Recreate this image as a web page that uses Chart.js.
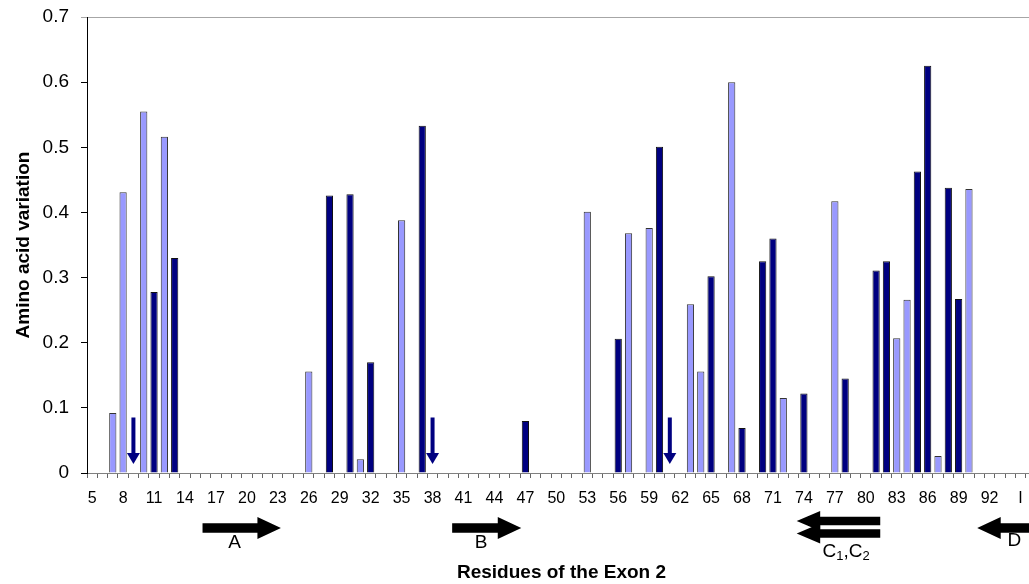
<!DOCTYPE html>
<html><head><meta charset="utf-8">
<script src="https://cdn.jsdelivr.net/npm/chart.js@4/dist/chart.umd.min.js"></script>
<style>
html,body{margin:0;padding:0;background:#fff;overflow:hidden;width:1029px;height:584px}
#wrap{position:absolute;left:0;top:0;width:1040px;height:584px}
</style>
</head><body><div id="wrap"><canvas id="c" width="1040" height="584"></canvas></div>
<script>
// ---- data ----
const categories = [5,6,7,8,9,10,11,12,13,14,15,16,17,18,19,20,21,22,23,24,25,26,27,28,29,30,31,32,33,34,35,36,37,38,39,40,41,42,43,44,45,46,47,48,49,50,51,52,53,54,55,56,57,58,59,60,61,62,63,64,65,66,67,68,69,70,71,72,73,74,75,76,77,78,79,80,81,82,83,84,85,86,87,88,89,90,91,92,93,94,95,96];
const tickLabels = ['5','8','11','14','17','20','23','26','29','32','35','38','41','44','47','50','53','56','59','62','65','68','71','74','77','80','83','86','89','92','I'];

const lightResidues = [7,8,10,12,26,31,35,53,57,59,63,64,67,72,77,83,84,87,90];
const lightValues   = [0.092,0.431,0.555,0.516,0.156,0.021,0.388,0.401,0.368,0.376,0.259,0.156,0.600,0.115,0.417,0.207,0.266,0.026,0.436];

const darkResidues = [11,13,28,30,32,37,47,56,60,65,68,70,71,74,78,81,82,85,86,88,89];
const darkValues   = [0.278,0.330,0.426,0.428,0.170,0.533,0.080,0.206,0.501,0.302,0.069,0.325,0.360,0.122,0.145,0.311,0.325,0.463,0.625,0.438,0.267];

const yTicks = [0,0.1,0.2,0.3,0.4,0.5,0.6,0.7];

// marked residues (small down arrows)
const markerResidues = [9,38,61];

// secondary-structure strands (residue span: tail -> tip)
const strandIds  = ['A','B','C1','C2','D'];
const strandFrom = [15.7,39.9,81.4,81.4,100];
const strandTo   = [23.3,46.6,73.3,73.3,90.8];
const strandLabelText    = ['A','B','C','D'];
const strandLabelResidue = [18.8,42.7,78.1,94.4];

// ---- build series ----
const toSeries = (res, vals) => categories.map(r => { const i = res.indexOf(r); return i >= 0 ? vals[i] : null; });
const lightData = toSeries(lightResidues, lightValues);
const darkData  = toSeries(darkResidues, darkValues);

const FONT = "'Liberation Sans', Arial, sans-serif";
Chart.defaults.font.family = FONT;
Chart.defaults.color = '#000';

const isTop = ctx => ctx.tick && Math.abs(ctx.tick.value - 0.7) < 1e-6;

// style rows for strand arrows (px)
const strandRowY = [528,528,521,533.5,528];
const strandShaftHalf = [4.7,4.7,4.2,4.2,4.7];
const strandHeadHalf  = [11,11,10,10,11];

const annot = {
  id: 'annot',
  afterDraw(chart) {
    const ctx = chart.ctx, xs = chart.scales.x;
    const px = r => xs.getPixelForValue(r - categories[0]);
    ctx.save();
    // down arrows
    ctx.fillStyle = '#000080';
    markerResidues.forEach(r => {
      const x = px(r);
      ctx.fillRect(x - 2, 417.5, 4, 36);
      ctx.beginPath();
      ctx.moveTo(x - 6.5, 453); ctx.lineTo(x + 6.5, 453); ctx.lineTo(x, 464);
      ctx.closePath(); ctx.fill();
    });
    // strand arrows
    ctx.fillStyle = '#000';
    strandIds.forEach((id, i) => {
      const xt = px(strandFrom[i]), xh = px(strandTo[i]);
      const y = strandRowY[i], sh = strandShaftHalf[i], hh = strandHeadHalf[i];
      const dir = xh > xt ? 1 : -1;
      const headLen = 23.5;
      const xb = xh - dir * headLen;
      ctx.beginPath();
      ctx.moveTo(xt, y - sh); ctx.lineTo(xb, y - sh); ctx.lineTo(xb, y - hh);
      ctx.lineTo(xh, y); ctx.lineTo(xb, y + hh); ctx.lineTo(xb, y + sh);
      ctx.lineTo(xt, y + sh); ctx.closePath(); ctx.fill();
    });
    // labels
    ctx.textBaseline = 'middle';
    ctx.textAlign = 'center';
    ctx.font = '19px ' + FONT;
    const labY = [543, 543, 551.5, 540.5];
    strandLabelText.forEach((t, i) => {
      const x = px(strandLabelResidue[i]);
      if (t === 'C') {
        // "C1,C2" with subscripts
        const big = '19px ' + FONT, small = '13px ' + FONT;
        const parts = [['C', big, 0], ['1', small, 5], [',', big, 0], ['C', big, 0], ['2', small, 5]];
        let w = 0;
        parts.forEach(p => { ctx.font = p[1]; w += ctx.measureText(p[0]).width; });
        let cx = x - w / 2;
        ctx.textAlign = 'left';
        parts.forEach(p => { ctx.font = p[1]; ctx.fillText(p[0], cx, labY[i] + p[2]); cx += ctx.measureText(p[0]).width; });
        ctx.textAlign = 'center';
        ctx.font = '19px ' + FONT;
      } else {
        ctx.fillText(t, x, labY[i]);
      }
    });
    ctx.restore();
  }
};

new Chart(document.getElementById('c'), {
  type: 'bar',
  data: {
    labels: categories,
    datasets: [
      { label: 'light', data: lightData, backgroundColor: '#9999FF', borderColor: '#333', borderWidth: 1, grouped: false, barPercentage: 0.7, categoryPercentage: 1 },
      { label: 'dark',  data: darkData,  backgroundColor: '#000080', borderColor: '#111', borderWidth: 1, grouped: false, barPercentage: 0.7, categoryPercentage: 1 }
    ]
  },
  options: {
    responsive: false,
    devicePixelRatio: 1,
    animation: false,
    layout: { padding: { top: 17, right: 4, left: 0, bottom: 0 } },
    plugins: { legend: { display: false }, tooltip: { enabled: false } },
    scales: {
      x: {
        type: 'category',
        offset: true,
        grid: { display: true, drawOnChartArea: false, drawTicks: true, tickLength: 5, color: '#666', tickColor: '#666', offset: true },
        border: { display: true, color: '#808080', width: 1 },
        ticks: { autoSkip: false, maxRotation: 0, minRotation: 0, padding: 11, color: '#000', font: { size: 16 },
          callback: (v, i) => (i % 3 === 0 ? tickLabels[i / 3] : '') },
        title: { display: true, text: 'Residues of the Exon 2', color: '#000', font: { size: 19, weight: 'bold' }, padding: { top: 0, bottom: 0 } },
        afterFit: s => { s.height = 111; s.paddingLeft = 0; s.paddingRight = 0; }
      },
      y: {
        min: 0, max: 0.7,
        afterBuildTicks: s => { s.ticks = yTicks.map(v => ({ value: v })); },
        ticks: { padding: 12, color: '#000', font: { size: 19 }, callback: v => (v === 0 ? '0' : v.toFixed(1)) },
        grid: { drawOnChartArea: true, tickLength: 6,
          color: ctx => (isTop(ctx) ? '#a6a6a6' : 'rgba(0,0,0,0)'),
          tickColor: ctx => (isTop(ctx) ? '#a6a6a6' : '#000') },
        border: { display: true, color: '#000', width: 1 },
        title: { display: true, text: 'Amino acid variation', color: '#000', font: { size: 19, weight: 'bold' }, padding: { top: 12, bottom: 0 } },
        afterFit: s => { s.width = 87; s.paddingTop = 0; s.paddingBottom = 0; }
      }
    }
  },
  plugins: [annot]
});
</script>
</body></html>
